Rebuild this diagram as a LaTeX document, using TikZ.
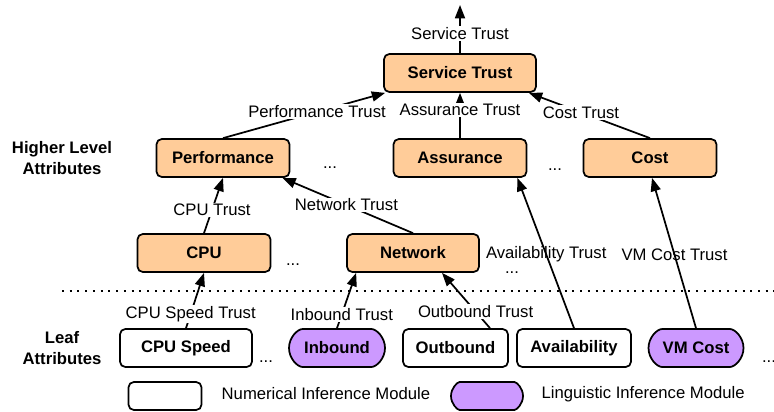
\documentclass[tikz,border=0pt]{standalone}
\usepackage{fontspec}
\setmainfont{Liberation Sans}
\definecolor{attrfill}{RGB}{255, 204, 153}
\definecolor{lingfill}{RGB}{204, 153, 255}
\usetikzlibrary{arrows.meta, calc, shapes.misc}
\tikzset{
    every node/.style={font=\fontsize{12.5}{14}\selectfont},
    attrbox/.style={draw, line width=1.3pt, rounded corners=4pt, fill=attrfill,
        minimum width=99.75pt, minimum height=28.5pt, inner sep=0pt,
        font=\fontsize{12.5}{14}\selectfont\bfseries},
    numbox/.style={attrbox, fill=white},
    lingbox/.style={attrbox, rounded rectangle, fill=lingfill},
    sidetitle/.style={align=center, font=\fontsize{12.5}{15.75}\selectfont\bfseries},
    trustarrow/.style={-{Triangle[length=10pt, width=7.5pt]}, line width=1.3pt},
    trustlabel/.style={fill=white, inner sep=1pt},
    plainlabel/.style={inner sep=1pt},
}
\begin{document}
\begin{tikzpicture}[x=0.75pt, y=-0.75pt]
    \useasboundingbox (0, 0) rectangle (774, 411);
    \node[attrbox, minimum width=114pt] (st) at (460, 73) {Service Trust};
    \coordinate (top) at (460, 5);
    \node[attrbox] (perf) at (223, 158) {Performance};
    \node[attrbox] (assur) at (460, 158) {Assurance};
    \node[attrbox] (cost) at (650, 158) {Cost};
    \node[attrbox] (cpu) at (204, 253) {CPU};
    \node[attrbox, minimum width=99pt] (net) at (413, 253) {Network};
    \node[numbox, minimum width=99pt] (cpuspeed) at (186, 348) {CPU Speed};
    \node[lingbox, minimum width=72pt] (inbound) at (337, 348) {Inbound};
    \node[numbox, minimum width=78.75pt] (outbound) at (455.5, 348) {Outbound};
    \node[numbox, minimum width=85.5pt] (avail) at (574, 348) {Availability};
    \node[lingbox, minimum width=71.25pt] (vmcost) at (696, 348) {VM Cost};
    \node[sidetitle] (higher) at (62, 158) {Higher Level\\Attributes};
    \node[sidetitle] (leaf) at (62, 348) {Leaf\\Attributes};
    \node (dotsa) at (330, 168) {...};
    \node (dotsb) at (555, 170) {...};
    \node (dotsc) at (293, 265) {...};
    \node (dotsd) at (512, 273) {...};
    \node (dotse) at (266, 362) {...};
    \node (dotsf) at (769, 362) {...};
    \draw[line width=1.5pt, dash pattern=on 1.5pt off 4.3pt] (62, 291) -- (774, 291);
    \draw[trustarrow] (st.north) -- (top) node[trustlabel, pos=0.4] {Service Trust};
    \draw[trustarrow] (perf.north) -- ($(st.south west)+(2, 0)$)
        node[trustlabel, pos=0.58] {Performance Trust};
    \draw[trustarrow] (assur.north) -- (st.south)
        node[trustlabel, pos=0.62] {Assurance Trust};
    \draw[trustarrow] (cost.north) -- ($(st.south east)+(-8, 0)$)
        node[trustlabel, pos=0.57] {Cost Trust};
    \draw[trustarrow] (cpu.north) -- (perf.south)
        node[trustlabel, pos=0.42] {CPU Trust};
    \draw[trustarrow] (net.north) -- ($(perf.south east)+(-8, 0)$)
        node[trustlabel, pos=0.51] {Network Trust};
    \draw[trustarrow] (cpuspeed.north) -- (cpu.south)
        node[trustlabel, pos=0.26] {CPU Speed Trust};
    \draw[trustarrow] (inbound.north) -- ($(net.south west)+(10, 0)$)
        node[trustlabel, pos=0.25] {Inbound Trust};
    \draw[trustarrow] ($(outbound.north)+(34.5, 0)$) -- ($(net.south)+(29, 0)$)
        node[trustlabel, pos=0.3] {Outbound Trust};
    \draw[trustarrow] (avail.north) -- ($(assur.south east)+(-10, 0)$)
        node[plainlabel, pos=0.49] {Availability Trust};
    \draw[trustarrow] (vmcost.north) -- ($(cost.south)+(2, 0)$)
        node[plainlabel, pos=0.49] {VM Cost Trust};
    \node[numbox, minimum width=54.75pt, minimum height=21pt] (numkey) at (165, 396) {};
    \node[anchor=west] (numtext) at (217, 394) {Numerical Inference Module};
    \node[lingbox, minimum width=54pt, minimum height=21pt] (lingkey) at (487, 396) {};
    \node[anchor=west] (lingtext) at (537, 394) {Linguistic Inference Module};
\end{tikzpicture}
\end{document}
